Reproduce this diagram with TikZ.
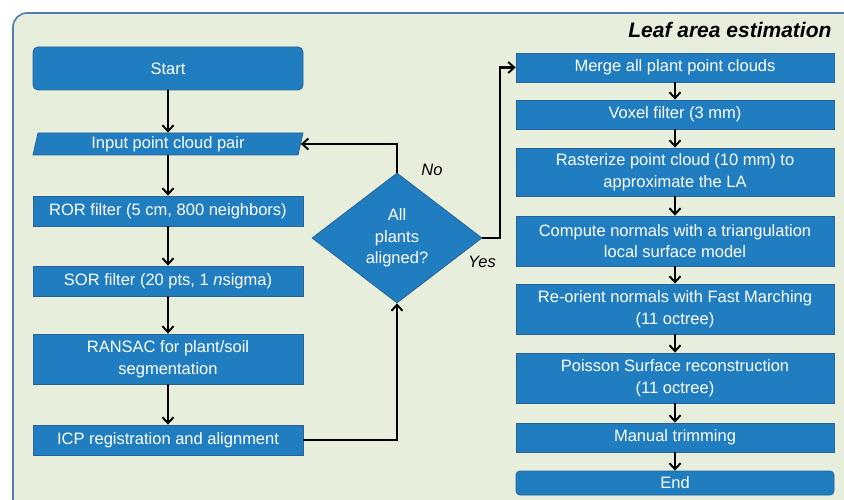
\documentclass[tikz,border=0pt]{standalone}
\usepackage{fontspec}
\setmainfont{Liberation Sans}
\usetikzlibrary{arrows.meta,shapes.geometric}
\definecolor{boxblue}{RGB}{31,125,192}
\definecolor{boxedge}{RGB}{40,98,150}
\definecolor{panel}{RGB}{232,238,220}
\definecolor{panedge}{RGB}{78,127,174}
\tikzset{
  x=1pt,y=-1pt,
  box/.style={fill=boxblue,draw=boxedge,line width=0.8pt,text=white,font=\fontsize{16.5}{21.5}\selectfont,align=center,inner sep=0pt},
  lbox/.style={box,minimum width=270pt},
  rbox/.style={box,minimum width=318pt},
  flow/.style={draw=black,line width=2.2pt,-{Straight Barb[length=6pt,width=11pt,line width=1.9pt]}},
  lab/.style={font=\fontsize{16.5}{20}\selectfont\itshape,text=black}
}
\begin{document}
\begin{tikzpicture}
\useasboundingbox (0,0) rectangle (844,500);
\fill[white] (0,0) rectangle (844,500);
\draw[fill=panel,draw=panedge,line width=1.6pt,rounded corners=14pt] (13,13) rectangle (870,530);
\node[anchor=east,font=\fontsize{21}{24}\selectfont\bfseries\itshape] (title) at (835,30) {Leaf area estimation};
% left column
\node[box,rounded corners=5pt,minimum width=270pt,minimum height=43pt] (start) at (168,68.5) {Start};
\fill[boxblue,draw=boxedge,line width=0.8pt] (38,133) -- (303,133) -- (298,155) -- (33,155) -- cycle;
\node[box,fill=none,draw=none,minimum width=265pt,minimum height=22pt] (input) at (168,144) {Input point cloud pair};
\node[lbox,minimum height=30pt] (ror) at (168,211) {ROR filter (5 cm, 800 neighbors)};
\node[lbox,minimum height=30pt] (sor) at (168,281) {SOR filter (20 pts, 1 \textit{n}sigma)};
\node[lbox,minimum height=50pt] (ransac) at (168,359) {RANSAC for plant/soil\\segmentation};
\node[lbox,minimum height=30pt] (icp) at (168,440) {ICP registration and alignment};
% diamond
\node[box,diamond,minimum width=170pt,minimum height=130pt,inner sep=0pt] (dec) at (397,238) {All\\plants\\aligned?};
% right column
\node[rbox,minimum height=29pt] (merge) at (675,67.5) {Merge all plant point clouds};
\node[rbox,minimum height=29pt] (voxel) at (675,114.5) {Voxel filter (3 mm)};
\node[rbox,minimum height=48pt] (raster) at (675,172) {Rasterize point cloud (10 mm) to\\approximate the LA};
\node[rbox,minimum height=50pt] (normals) at (675,241) {Compute normals with a triangulation\\local surface model};
\node[rbox,minimum height=50pt] (reorient) at (675,309) {Re-orient normals with Fast Marching\\(11 octree)};
\node[rbox,minimum height=50pt] (poisson) at (675,378) {Poisson Surface reconstruction\\(11 octree)};
\node[rbox,minimum height=29pt] (trim) at (675,437.5) {Manual trimming};
\node[rbox,rounded corners=4pt,minimum height=24pt] (end) at (675,483) {End};
% connectors
\draw[flow] (start) -- (start.south |- input.north);
\draw[flow] (input) -- (ror);
\draw[flow] (ror) -- (sor);
\draw[flow] (sor) -- (ransac);
\draw[flow] (ransac) -- (icp);
\draw[flow] (icp.east) -| (dec.south);
\draw[flow] (dec.north) |- (input.east);
\coordinate (yesbend) at (500,238);
\draw[flow] (dec.east) -- (yesbend) |- (merge.west);
\draw[flow] (merge) -- (voxel);
\draw[flow] (voxel) -- (raster);
\draw[flow] (raster) -- (normals);
\draw[flow] (normals) -- (reorient);
\draw[flow] (reorient) -- (poisson);
\draw[flow] (poisson) -- (trim);
\draw[flow] (trim) -- (end);
\node[lab] (no) at (432,170) {No};
\node[lab] (yes) at (482,262) {Yes};
\end{tikzpicture}
\end{document}
